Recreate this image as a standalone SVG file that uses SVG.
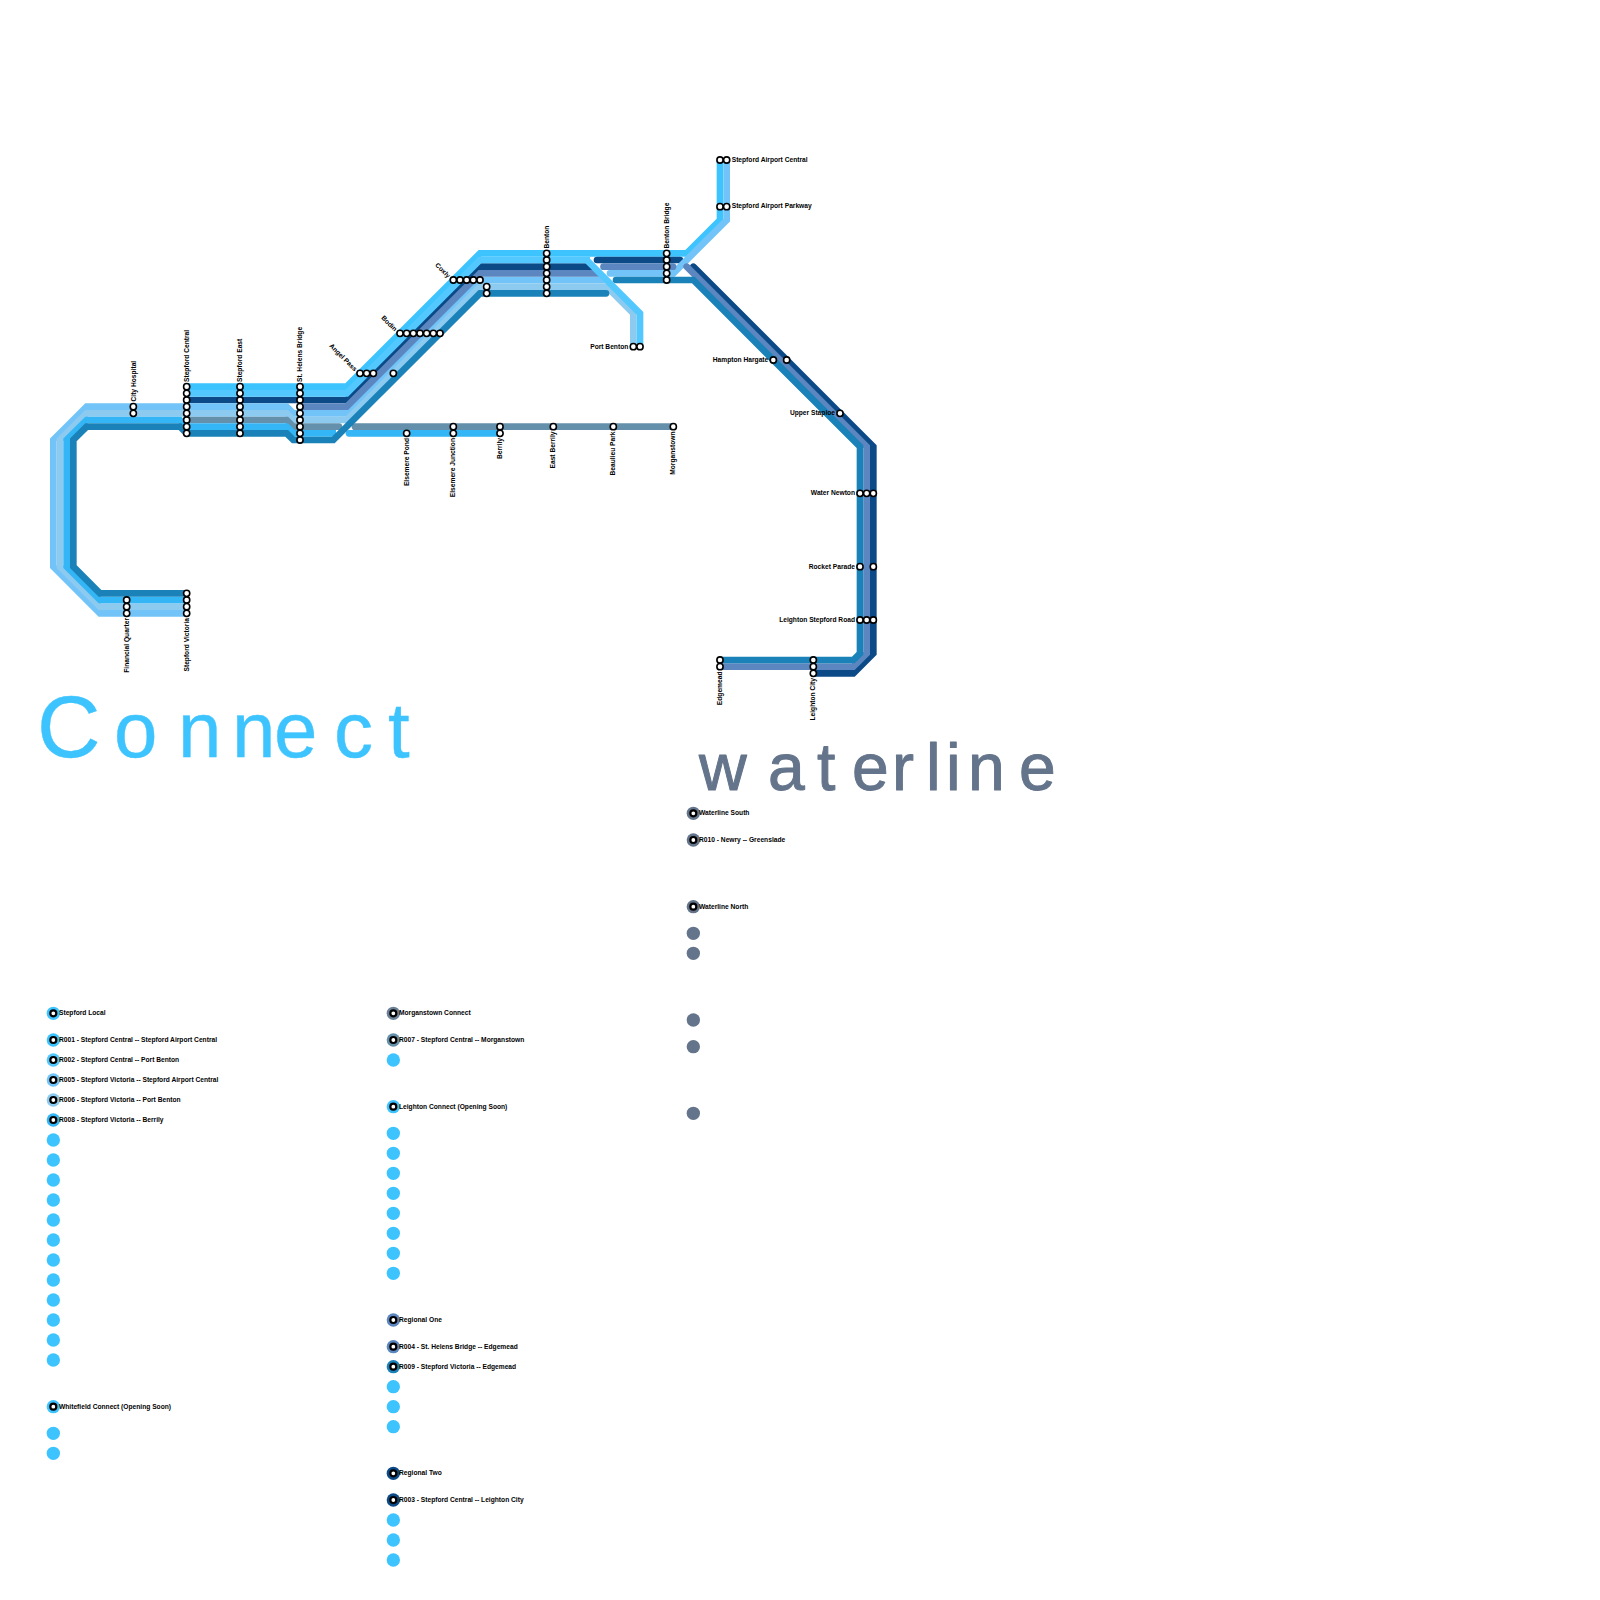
<svg xmlns="http://www.w3.org/2000/svg" width="1600" height="1600" viewBox="0 0 1600 1600">
<style>
text{font-family:"Liberation Sans",Arial,sans-serif;font-size:6.67px;font-weight:700;fill:#000}
.e{text-anchor:end}
.r{fill:none;stroke-width:6.67;stroke-linejoin:miter;stroke-linecap:butt}
.c{stroke-linecap:round}
.k circle{r:3.1;fill:#fff;stroke:#000;stroke-width:1.6}
.d{r:6.67}
.i{fill:#fff;stroke:#000;stroke-width:2.2;r:3}
.a{stroke:#3dc4ff}.b{stroke:#52c8ff}.g{stroke:#0b4a86}.p{stroke:#5b86bf}.h{stroke:#72c4f8}.j{stroke:#8dcaf0}.m{stroke:#6590ab}.o{stroke:#34b5f5}.q{stroke:#1a82b8}
.logoC{font-family:"Liberation Sans",Arial,sans-serif;font-weight:400;fill:#3dc4ff;stroke:#3dc4ff;stroke-width:.4;stroke-linejoin:round}
.logoW{font-family:"Liberation Sans",Arial,sans-serif;font-weight:400;fill:#64748b;stroke:#64748b;stroke-width:1;stroke-linejoin:round}
</style>
<g id="connectors">
<path class="r g" d="M186.67 400H346.67L480 266.67H592"/>
<path class="r a" d="M186.67 386.67H346.67L480 253.33H686.67L720 220V160"/>
<path class="r b" d="M186.67 393.33H346.67L480 260H590"/>
<path class="r g c" d="M597 260H680"/>
<path class="r g c" d="M693.33 266.67L873.33 446.67V653.33L853.33 673.33H813.33"/>
<path class="r h" d="M186.67 613.33H100L53.33 566.67V440L86.67 406.67H286.67L293.33 413.33H346.67L480 280H605"/>
<path class="r h c" d="M610 273.33H673.33L726.67 220V160"/>
<path class="r p" d="M300 406.67H346.67L480 273.33H599"/>
<path class="r p c" d="M603.5 266.67H673"/>
<path class="r p c" d="M686.67 266.67L866.67 446.67V653.33L853.33 666.67H720"/>
<path class="r j" d="M186.67 606.67H100L60 566.67V440L86.67 413.33H286.67L293.33 420H346.67L480 286.67H606.67L633.33 313.33V346.67"/>
<path class="r m c" d="M186.67 420H286.67L293.33 426.67H339"/>
<path class="r m c" d="M355 426.67H673.33"/>
<path class="r o" d="M186.67 600H100L66.67 566.67V440L86.67 420H180L186.67 426.67H286.67L293.33 433.33H336"/>
<path class="r o c" d="M349 433.33H500"/>
<path class="r q c" d="M186.67 593.33H100L73.33 566.67V440L86.67 426.67H180L186.67 433.33H286.67L293.33 440H333.33L480 293.33H606"/>
<path class="r q c" d="M616 280H693.33L860 446.67V653.33L853.33 660H720"/>
<path class="r b" d="M586.67 260L640 313.33V346.67"/>
</g>
<g id="stations" class="k">
<g id="city-hospital"><circle cx="133.33" cy="406.67"/><circle cx="133.33" cy="413.33"/><text transform="rotate(-90 135.5 401.5)" x="135.5" y="401.5">City Hospital</text></g>
<g id="stepford-central"><circle cx="186.67" cy="386.67"/><circle cx="186.67" cy="393.33"/><circle cx="186.67" cy="400"/><circle cx="186.67" cy="406.67"/><circle cx="186.67" cy="413.33"/><circle cx="186.67" cy="420"/><circle cx="186.67" cy="426.67"/><circle cx="186.67" cy="433.33"/><text transform="rotate(-90 189 382)" x="189" y="382">Stepford Central</text></g>
<g id="stepford-east"><circle cx="240" cy="386.67"/><circle cx="240" cy="393.33"/><circle cx="240" cy="400"/><circle cx="240" cy="406.67"/><circle cx="240" cy="413.33"/><circle cx="240" cy="420"/><circle cx="240" cy="426.67"/><circle cx="240" cy="433.33"/><text transform="rotate(-90 242.3 382)" x="242.3" y="382">Stepford East</text></g>
<g id="st-helens-bridge"><circle cx="300" cy="386.67"/><circle cx="300" cy="393.33"/><circle cx="300" cy="400"/><circle cx="300" cy="406.67"/><circle cx="300" cy="413.33"/><circle cx="300" cy="420"/><circle cx="300" cy="426.67"/><circle cx="300" cy="433.33"/><circle cx="300" cy="440"/><text transform="rotate(-90 302.3 382)" x="302.3" y="382">St. Helens Bridge</text></g>
<g id="angel-pass"><circle cx="360" cy="373.33"/><circle cx="366.67" cy="373.33"/><circle cx="373.33" cy="373.33"/><circle cx="393.33" cy="373.33"/><text class="e" transform="rotate(45 354.3 371.7)" x="354.3" y="371.7">Angel Pass</text></g>
<g id="bodin"><circle cx="400" cy="333.33"/><circle cx="406.67" cy="333.33"/><circle cx="413.33" cy="333.33"/><circle cx="420" cy="333.33"/><circle cx="426.67" cy="333.33"/><circle cx="433.33" cy="333.33"/><circle cx="440" cy="333.33"/><text class="e" transform="rotate(45 394.3 331.7)" x="394.3" y="331.7">Bodin</text></g>
<g id="coxly"><circle cx="453.33" cy="280"/><circle cx="460" cy="280"/><circle cx="466.67" cy="280"/><circle cx="473.33" cy="280"/><circle cx="480" cy="280"/><circle cx="486.67" cy="286.67"/><circle cx="486.67" cy="293.33"/><text class="e" transform="rotate(45 447.6 278.4)" x="447.6" y="278.4">Coxly</text></g>
<g id="benton"><circle cx="546.67" cy="253.33"/><circle cx="546.67" cy="260"/><circle cx="546.67" cy="266.67"/><circle cx="546.67" cy="273.33"/><circle cx="546.67" cy="280"/><circle cx="546.67" cy="286.67"/><circle cx="546.67" cy="293.33"/><text transform="rotate(-90 549 248.5)" x="549" y="248.5">Benton</text></g>
<g id="benton-bridge"><circle cx="666.67" cy="253.33"/><circle cx="666.67" cy="260"/><circle cx="666.67" cy="266.67"/><circle cx="666.67" cy="273.33"/><circle cx="666.67" cy="280"/><text transform="rotate(-90 669 248.5)" x="669" y="248.5">Benton Bridge</text></g>
<g id="port-benton"><circle cx="633.33" cy="346.67"/><circle cx="640" cy="346.67"/><text class="e" x="628.3" y="348.8">Port Benton</text></g>
<g id="stepford-airport-central"><circle cx="720" cy="160"/><circle cx="726.67" cy="160"/><text x="731.7" y="162">Stepford Airport Central</text></g>
<g id="stepford-airport-parkway"><circle cx="720" cy="206.67"/><circle cx="726.67" cy="206.67"/><text x="731.7" y="208.3">Stepford Airport Parkway</text></g>
<g id="hampton-hargate"><circle cx="773.33" cy="360"/><circle cx="786.67" cy="360"/><text class="e" x="768.3" y="362">Hampton Hargate</text></g>
<g id="upper-staploe"><circle cx="840" cy="413.33"/><text class="e" x="835" y="415.4">Upper Staploe</text></g>
<g id="water-newton"><circle cx="860" cy="493.33"/><circle cx="866.67" cy="493.33"/><circle cx="873.33" cy="493.33"/><text class="e" x="855" y="495.4">Water Newton</text></g>
<g id="rocket-parade"><circle cx="860" cy="566.67"/><circle cx="873.33" cy="566.67"/><text class="e" x="855" y="568.7">Rocket Parade</text></g>
<g id="leighton-stepford-road"><circle cx="860" cy="620"/><circle cx="866.67" cy="620"/><circle cx="873.33" cy="620"/><text class="e" x="855" y="622">Leighton Stepford Road</text></g>
<g id="edgemead"><circle cx="720" cy="660"/><circle cx="720" cy="666.67"/><text class="e" transform="rotate(-90 722 671.5)" x="722" y="671.5">Edgemead</text></g>
<g id="leighton-city"><circle cx="813.33" cy="660"/><circle cx="813.33" cy="666.67"/><circle cx="813.33" cy="673.33"/><text class="e" transform="rotate(-90 815.3 678)" x="815.3" y="678">Leighton City</text></g>
<g id="financial-quarter"><circle cx="126.67" cy="600"/><circle cx="126.67" cy="606.67"/><circle cx="126.67" cy="613.33"/><text class="e" transform="rotate(-90 128.7 618)" x="128.7" y="618">Financial Quarter</text></g>
<g id="stepford-victoria"><circle cx="186.67" cy="593.33"/><circle cx="186.67" cy="600"/><circle cx="186.67" cy="606.67"/><circle cx="186.67" cy="613.33"/><text class="e" transform="rotate(-90 188.7 618)" x="188.7" y="618">Stepford Victoria</text></g>
<g id="elsemere-pond"><circle cx="406.67" cy="433.33"/><text class="e" transform="rotate(-90 408.7 438)" x="408.7" y="438">Elsemere Pond</text></g>
<g id="elsemere-junction"><circle cx="453.33" cy="426.67"/><circle cx="453.33" cy="433.33"/><text class="e" transform="rotate(-90 455.3 438)" x="455.3" y="438">Elsemere Junction</text></g>
<g id="berrily"><circle cx="500" cy="426.67"/><circle cx="500" cy="433.33"/><text class="e" transform="rotate(-90 502 438)" x="502" y="438">Berrily</text></g>
<g id="east-berrily"><circle cx="553.33" cy="426.67"/><text class="e" transform="rotate(-90 555.3 431.5)" x="555.3" y="431.5">East Berrily</text></g>
<g id="beaulieu-park"><circle cx="613.33" cy="426.67"/><text class="e" transform="rotate(-90 615.3 431.5)" x="615.3" y="431.5">Beaulieu Park</text></g>
<g id="morganstown"><circle cx="673.33" cy="426.67"/><text class="e" transform="rotate(-90 675.3 431.5)" x="675.3" y="431.5">Morganstown</text></g>
</g>
<g id="logos">
<text class="logoC" style="font-size:78px" y="756.5" x="37 114 178 232 274 334 388"><tspan style="font-size:88px">C</tspan>onnect</text>
<text class="logoW" style="font-size:66px" y="790" x="699 768 817 852 892 926 946 968 1019">waterline</text>
</g>
<g id="legend">
<g id="stepford-local"><circle class="d" cx="53.33" cy="1013.33" fill="#3dc4ff"/><circle class="i" cx="53.33" cy="1013.33"/><text x="59" y="1015.4">Stepford Local</text></g>
<g id="r001"><circle class="d" cx="53.33" cy="1040" fill="#3dc4ff"/><circle class="i" cx="53.33" cy="1040"/><text x="59" y="1042">R001 - Stepford Central -- Stepford Airport Central</text></g>
<g id="r002"><circle class="d" cx="53.33" cy="1060" fill="#52c8ff"/><circle class="i" cx="53.33" cy="1060"/><text x="59" y="1062">R002 - Stepford Central -- Port Benton</text></g>
<g id="r005"><circle class="d" cx="53.33" cy="1080" fill="#72c4f8"/><circle class="i" cx="53.33" cy="1080"/><text x="59" y="1082">R005 - Stepford Victoria -- Stepford Airport Central</text></g>
<g id="r006"><circle class="d" cx="53.33" cy="1100" fill="#8dcaf0"/><circle class="i" cx="53.33" cy="1100"/><text x="59" y="1102">R006 - Stepford Victoria -- Port Benton</text></g>
<g id="r008"><circle class="d" cx="53.33" cy="1120" fill="#34b5f5"/><circle class="i" cx="53.33" cy="1120"/><text x="59" y="1122">R008 - Stepford Victoria -- Berrily</text></g>
<g id="dots-a" fill="#3dc4ff"><circle class="d" cx="53.33" cy="1140"/><circle class="d" cx="53.33" cy="1160"/><circle class="d" cx="53.33" cy="1180"/><circle class="d" cx="53.33" cy="1200"/><circle class="d" cx="53.33" cy="1220"/><circle class="d" cx="53.33" cy="1240"/><circle class="d" cx="53.33" cy="1260"/><circle class="d" cx="53.33" cy="1280"/><circle class="d" cx="53.33" cy="1300"/><circle class="d" cx="53.33" cy="1320"/><circle class="d" cx="53.33" cy="1340"/><circle class="d" cx="53.33" cy="1360"/></g>
<g id="whitefield-connect"><circle class="d" cx="53.33" cy="1406.67" fill="#3dc4ff"/><circle class="i" cx="53.33" cy="1406.67"/><text x="59" y="1408.7">Whitefield Connect (Opening Soon)</text></g>
<g id="dots-b" fill="#3dc4ff"><circle class="d" cx="53.33" cy="1433.33"/><circle class="d" cx="53.33" cy="1453.33"/></g>
<g id="morganstown-connect"><circle class="d" cx="393.33" cy="1013.33" fill="#6b8097"/><circle class="i" cx="393.33" cy="1013.33"/><text x="399" y="1015.4">Morganstown Connect</text></g>
<g id="r007"><circle class="d" cx="393.33" cy="1040" fill="#6590ab"/><circle class="i" cx="393.33" cy="1040"/><text x="399" y="1042">R007 - Stepford Central -- Morganstown</text></g>
<g id="dots-c" fill="#3dc4ff"><circle class="d" cx="393.33" cy="1060"/></g>
<g id="leighton-connect"><circle class="d" cx="393.33" cy="1106.67" fill="#3dc4ff"/><circle class="i" cx="393.33" cy="1106.67"/><text x="399" y="1108.7">Leighton Connect (Opening Soon)</text></g>
<g id="dots-d" fill="#3dc4ff"><circle class="d" cx="393.33" cy="1133.33"/><circle class="d" cx="393.33" cy="1153.33"/><circle class="d" cx="393.33" cy="1173.33"/><circle class="d" cx="393.33" cy="1193.33"/><circle class="d" cx="393.33" cy="1213.33"/><circle class="d" cx="393.33" cy="1233.33"/><circle class="d" cx="393.33" cy="1253.33"/><circle class="d" cx="393.33" cy="1273.33"/></g>
<g id="regional-one"><circle class="d" cx="393.33" cy="1320" fill="#5b86bf"/><circle class="i" cx="393.33" cy="1320"/><text x="399" y="1322">Regional One</text></g>
<g id="r004"><circle class="d" cx="393.33" cy="1346.67" fill="#5b86bf"/><circle class="i" cx="393.33" cy="1346.67"/><text x="399" y="1348.7">R004 - St. Helens Bridge -- Edgemead</text></g>
<g id="r009"><circle class="d" cx="393.33" cy="1366.67" fill="#1a82b8"/><circle class="i" cx="393.33" cy="1366.67"/><text x="399" y="1368.7">R009 - Stepford Victoria -- Edgemead</text></g>
<g id="dots-e" fill="#3dc4ff"><circle class="d" cx="393.33" cy="1386.67"/><circle class="d" cx="393.33" cy="1406.67"/><circle class="d" cx="393.33" cy="1426.67"/></g>
<g id="regional-two"><circle class="d" cx="393.33" cy="1473.33" fill="#0b4a86"/><circle class="i" cx="393.33" cy="1473.33"/><text x="399" y="1475.4">Regional Two</text></g>
<g id="r003"><circle class="d" cx="393.33" cy="1500" fill="#0b4a86"/><circle class="i" cx="393.33" cy="1500"/><text x="399" y="1502">R003 - Stepford Central -- Leighton City</text></g>
<g id="dots-f" fill="#3dc4ff"><circle class="d" cx="393.33" cy="1520"/><circle class="d" cx="393.33" cy="1540"/><circle class="d" cx="393.33" cy="1560"/></g>
<g id="waterline-south"><circle class="d" cx="693.33" cy="813.33" fill="#64748b"/><circle class="i" cx="693.33" cy="813.33"/><text x="699" y="815.4">Waterline South</text></g>
<g id="r010"><circle class="d" cx="693.33" cy="840" fill="#64748b"/><circle class="i" cx="693.33" cy="840"/><text x="699" y="842">R010 - Newry -- Greenslade</text></g>
<g id="waterline-north"><circle class="d" cx="693.33" cy="906.67" fill="#64748b"/><circle class="i" cx="693.33" cy="906.67"/><text x="699" y="908.7">Waterline North</text></g>
<g id="dots-g" fill="#64748b"><circle class="d" cx="693.33" cy="933.33"/><circle class="d" cx="693.33" cy="953.33"/><circle class="d" cx="693.33" cy="1020"/><circle class="d" cx="693.33" cy="1046.67"/><circle class="d" cx="693.33" cy="1113.33"/></g>
</g>
</svg>
